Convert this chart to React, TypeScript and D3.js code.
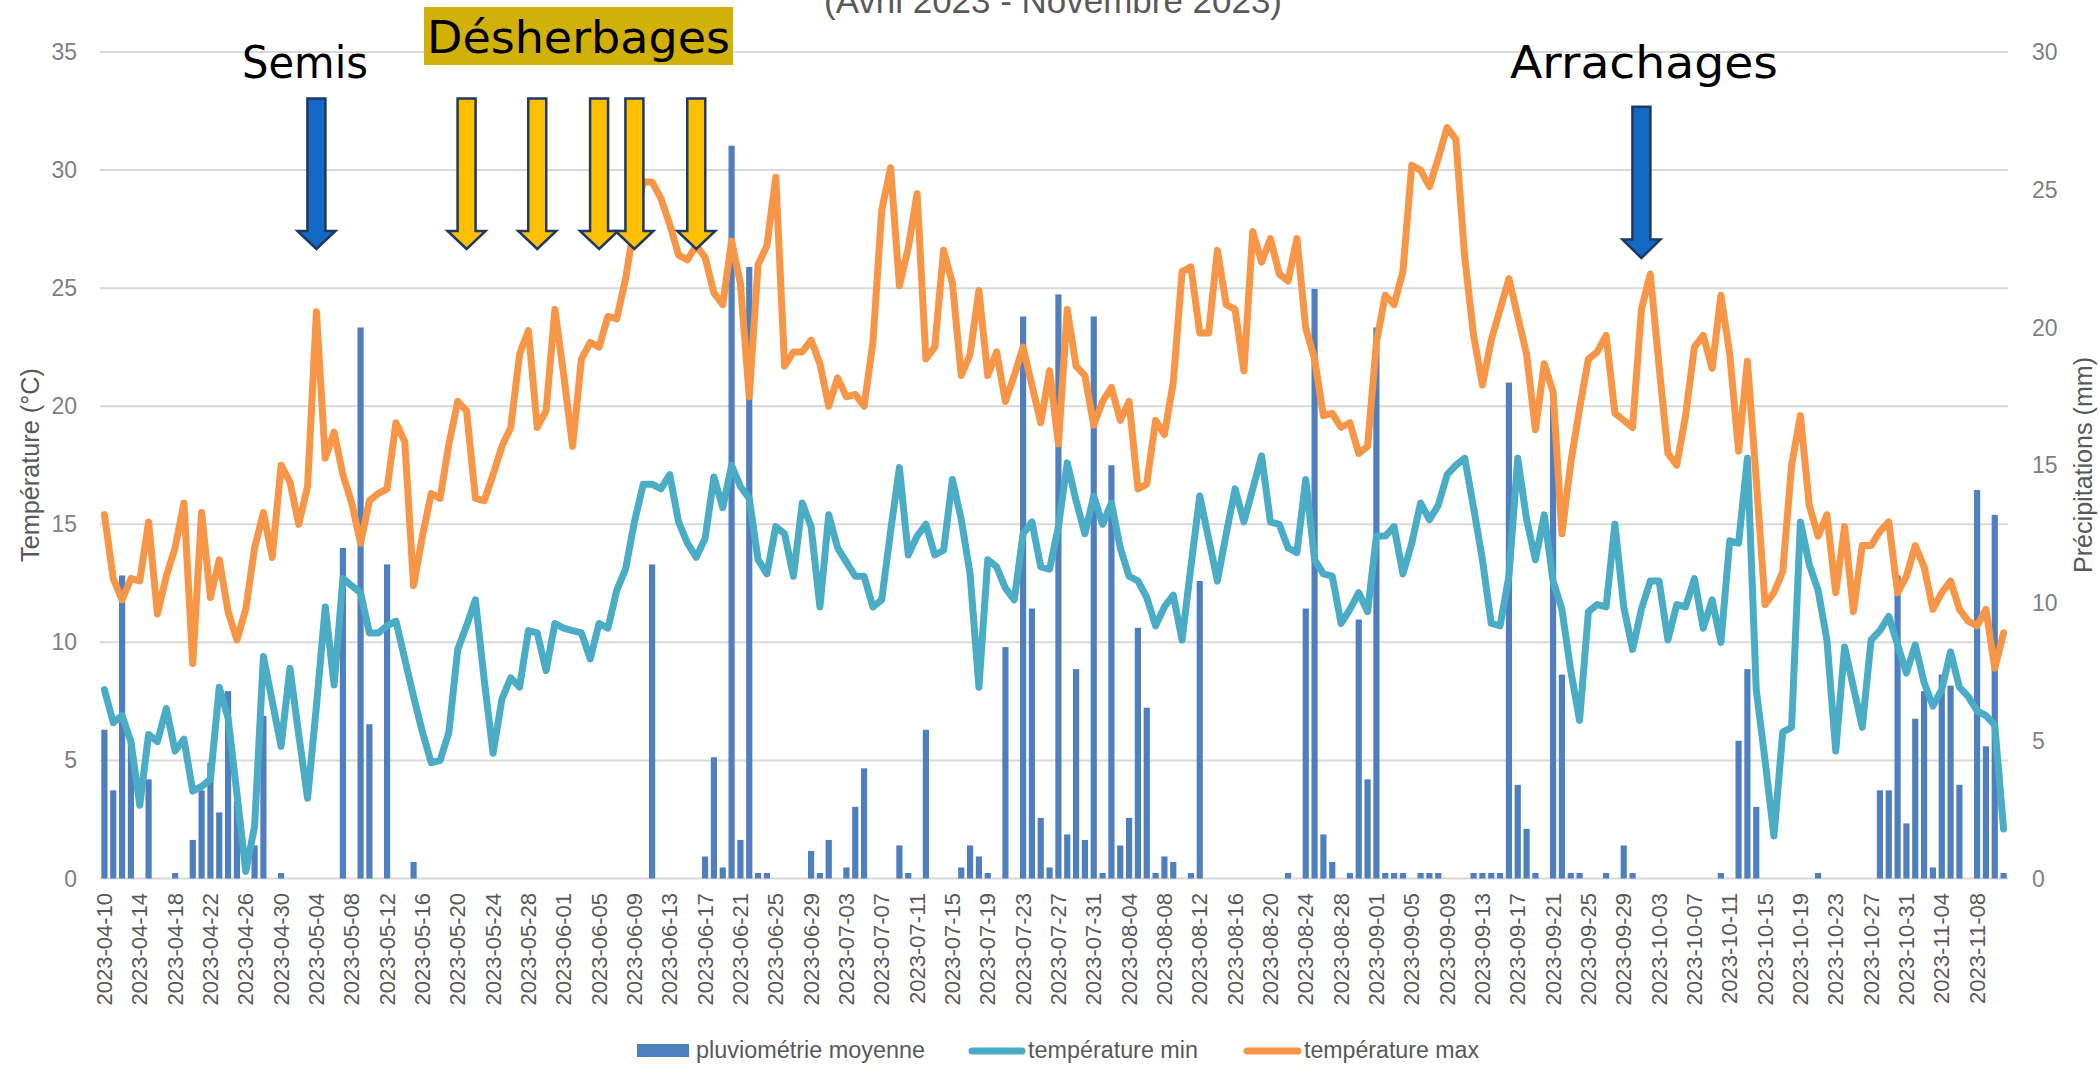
import * as d3 from "d3";

// daily series, 2023-04-10 -> 2023-11-11
const START_DAY = "2023-04-10";
const DAY_COUNT = 216;

// pluviométrie moyenne (mm)
const pluvio = [
  5.4, 3.2, 11.0, 5.0, 0, 3.6, 0, 0, 0.2, 0,
  1.4, 3.2, 4.2, 2.4, 6.8, 2.8, 0, 1.2, 5.9, 0,
  0.2, 0, 0, 0, 0, 0, 0, 12.0, 0, 20.0,
  5.6, 0, 11.4, 0, 0, 0.6, 0, 0, 0, 0,
  0, 0, 0, 0, 0, 0, 0, 0, 0, 0,
  0, 0, 0, 0, 0, 0, 0, 0, 0, 0,
  0, 0, 11.4, 0, 0, 0, 0, 0, 0.8, 4.4,
  0.4, 26.6, 1.4, 22.2, 0.2, 0.2, 0, 0, 0, 0,
  1.0, 0.2, 1.4, 0, 0.4, 2.6, 4.0, 0, 0, 0,
  1.2, 0.2, 0, 5.4, 0, 0, 0, 0.4, 1.2, 0.8,
  0.2, 0, 8.4, 0, 20.4, 9.8, 2.2, 0.4, 21.2, 1.6,
  7.6, 1.4, 20.4, 0.2, 15.0, 1.2, 2.2, 9.1, 6.2, 0.2,
  0.8, 0.6, 0, 0.2, 10.8, 0, 0, 0, 0, 0,
  0, 0, 0, 0, 0.2, 0, 9.8, 21.4, 1.6, 0.6,
  0, 0.2, 9.4, 3.6, 20.0, 0.2, 0.2, 0.2, 0, 0.2,
  0.2, 0.2, 0, 0, 0, 0.2, 0.2, 0.2, 0.2, 18.0,
  3.4, 1.8, 0.2, 0, 17.2, 7.4, 0.2, 0.2, 0, 0,
  0.2, 0, 1.2, 0.2, 0, 0, 0, 0, 0, 0,
  0, 0, 0, 0.2, 0, 5.0, 7.6, 2.6, 0, 0,
  0, 0, 0, 0, 0.2, 0, 0, 0, 0, 0,
  0, 3.2, 3.2, 11.0, 2.0, 5.8, 6.8, 0.4, 7.4, 7.0,
  3.4, 0, 14.1, 4.8, 13.2, 0.2,
];

// température min (°C)
const tMin = [
  8.0, 6.6, 6.9, 5.8, 3.1, 6.1, 5.8, 7.2, 5.4, 5.9,
  3.7, 3.9, 4.2, 8.1, 6.8, 3.6, 0.3, 2.2, 9.4, 7.5,
  5.6, 8.9, 6.1, 3.4, 7.3, 11.5, 8.2, 12.7, 12.4, 12.1,
  10.4, 10.4, 10.7, 10.9, 9.3, 7.7, 6.2, 4.9, 5.0, 6.2,
  9.7, 10.7, 11.8, 8.4, 5.3, 7.6, 8.5, 8.1, 10.5, 10.4,
  8.8, 10.8, 10.6, 10.5, 10.4, 9.3, 10.8, 10.6, 12.2, 13.1,
  15.1, 16.7, 16.7, 16.5, 17.1, 15.1, 14.2, 13.6, 14.4, 17.0,
  15.7, 17.5, 16.6, 16.1, 13.5, 12.9, 14.9, 14.6, 12.8, 15.9,
  14.9, 11.5, 15.4, 14.0, 13.4, 12.8, 12.8, 11.5, 11.8, 14.7,
  17.4, 13.7, 14.5, 15.0, 13.7, 13.9, 16.9, 15.2, 12.9, 8.1,
  13.5, 13.2, 12.3, 11.8, 14.6, 15.1, 13.2, 13.1, 14.9, 17.6,
  16.0, 14.6, 16.2, 15.0, 15.9, 14.0, 12.8, 12.6, 11.9, 10.7,
  11.5, 12.0, 10.1, 13.2, 16.2, 14.4, 12.6, 14.6, 16.5, 15.1,
  16.5, 17.9, 15.1, 15.0, 14.0, 13.8, 16.9, 13.5, 12.9, 12.8,
  10.8, 11.4, 12.1, 11.3, 14.5, 14.5, 14.9, 12.9, 14.2, 15.9,
  15.2, 15.8, 17.1, 17.5, 17.8, 15.7, 13.5, 10.8, 10.7, 12.8,
  17.8, 15.2, 13.5, 15.4, 12.6, 11.4, 8.8, 6.7, 11.3, 11.6,
  11.5, 15.0, 11.5, 9.7, 11.4, 12.6, 12.6, 10.1, 11.6, 11.5,
  12.7, 10.6, 11.8, 10.0, 14.3, 14.2, 17.8, 8.0, 5.0, 1.8,
  6.2, 6.4, 15.1, 13.3, 12.2, 10.1, 5.4, 9.8, 8.1, 6.4,
  10.1, 10.5, 11.1, 9.9, 8.7, 9.9, 8.3, 7.3, 8.0, 9.6,
  8.1, 7.7, 7.1, 6.9, 6.5, 2.1,
];

// température max (°C)
const tMax = [
  15.4, 12.7, 11.8, 12.7, 12.6, 15.1, 11.2, 12.8, 14.0, 15.9,
  9.1, 15.5, 11.9, 13.5, 11.3, 10.1, 11.4, 14.0, 15.5, 13.6,
  17.5, 16.8, 15.0, 16.6, 24.0, 17.8, 18.9, 17.1, 15.9, 14.2,
  16.0, 16.3, 16.5, 19.3, 18.5, 12.4, 14.5, 16.3, 16.1, 18.4,
  20.2, 19.8, 16.1, 16.0, 17.1, 18.3, 19.1, 22.2, 23.2, 19.1,
  19.8, 24.1, 21.3, 18.3, 22.0, 22.7, 22.5, 23.8, 23.7, 25.4,
  27.7, 29.5, 29.5, 28.8, 27.7, 26.4, 26.2, 26.8, 26.3, 24.8,
  24.3, 27.0, 25.2, 20.4, 26.0, 26.8, 29.7, 21.7, 22.3, 22.3,
  22.8, 21.8, 20.0, 21.2, 20.4, 20.5, 20.0, 22.7, 28.3, 30.1,
  25.1, 26.7, 29.0, 22.0, 22.5, 26.6, 25.2, 21.3, 22.2, 24.9,
  21.3, 22.3, 20.2, 21.3, 22.5, 20.9, 19.3, 21.5, 18.4, 24.1,
  21.7, 21.3, 19.2, 20.2, 20.8, 19.4, 20.2, 16.5, 16.7, 19.4,
  18.8, 21.0, 25.7, 25.9, 23.1, 23.1, 26.6, 24.3, 24.1, 21.5,
  27.4, 26.1, 27.1, 25.6, 25.3, 27.1, 23.3, 22.0, 19.6, 19.7,
  19.1, 19.3, 18.0, 18.3, 22.7, 24.7, 24.3, 25.7, 30.2, 30.0,
  29.3, 30.5, 31.8, 31.3, 26.3, 23.0, 20.9, 22.8, 24.1, 25.4,
  23.8, 22.2, 19.0, 21.8, 20.6, 14.6, 17.6, 19.9, 22.0, 22.3,
  23.0, 19.7, 19.4, 19.1, 24.1, 25.6, 21.7, 18.0, 17.5, 19.6,
  22.5, 23.0, 21.6, 24.7, 22.2, 18.1, 21.9, 16.9, 11.6, 12.1,
  13.0, 17.5, 19.6, 15.8, 14.5, 15.4, 12.1, 14.9, 11.3, 14.1,
  14.1, 14.7, 15.1, 12.1, 12.8, 14.1, 13.2, 11.4, 12.1, 12.6,
  11.4, 10.9, 10.7, 11.4, 8.9, 10.4,
];

const TEMP_TICKS = [0, 5, 10, 15, 20, 25, 30, 35];
const RAIN_TICKS = [0, 5, 10, 15, 20, 25, 30];

const SEMIS = ["2023-05-04"];
const DESHERBAGES = ["2023-05-21", "2023-05-29", "2023-06-05", "2023-06-09", "2023-06-16"];
const ARRACHAGES = ["2023-10-01"];

const W = 2100;
const H = 1067;
const PLOT = { left: 100, right: 2008, top: 52, bottom: 878.5 };

const BAR_COLOR = "#4f7fbf";
const MIN_COLOR = "#4bacc6";
const MAX_COLOR = "#f79646";
const GRID = "#d9d9d9";
const TXT = "#595959";
const SANS = "'Liberation Sans', Arial, sans-serif";
const GEO = "'DejaVu Sans', sans-serif";

const fmt = d3.timeFormat("%Y-%m-%d");
const parse = d3.timeParse("%Y-%m-%d");
const start = parse(START_DAY) as Date;
const days = d3.timeDay.range(start, d3.timeDay.offset(start, DAY_COUNT)).map(fmt);

function arrowPath(cx: number, top: number, headY: number, tip: number) {
  return `M${cx - 9},${top} L${cx + 9},${top} L${cx + 9},${headY} L${cx + 19},${headY} L${cx},${tip} L${cx - 19},${headY} L${cx - 9},${headY} Z`;
}

export default function App() {
  const x = d3
    .scaleBand<string>()
    .domain(days)
    .range([PLOT.left, PLOT.right])
    .paddingInner(0.3)
    .paddingOuter(0.15);
  const cx = (d: string) => (x(d) as number) + x.bandwidth() / 2;
  const yT = d3.scaleLinear().domain([0, 35]).range([PLOT.bottom, PLOT.top]);
  const yR = d3.scaleLinear().domain([0, 30]).range([PLOT.bottom, PLOT.top]);

  const line = d3
    .line<number>()
    .x((_, i) => cx(days[i]))
    .y((v) => yT(v));

  const labelDays = days.filter((_, i) => i % 4 === 0);

  return (
    <div style={{ position: "absolute", left: 0, top: 0, width: W, height: H, background: "#fff" }}>
      <svg width={W} height={H} style={{ display: "block" }}>
        <rect width={W} height={H} fill="#fff" />

        {/* title, cut at the top as in the source */}
        <text x={1053} y={12.5} textAnchor="middle" fontFamily={SANS} fontSize={35} fill={TXT} textLength={458} lengthAdjust="spacingAndGlyphs">
          (Avril 2023 - Novembre 2023)
        </text>

        {/* grid */}
        {TEMP_TICKS.map((t) => (
          <line key={t} x1={PLOT.left} x2={PLOT.right} y1={yT(t)} y2={yT(t)} stroke={GRID} strokeWidth={2} />
        ))}

        {/* left ticks */}
        {TEMP_TICKS.map((t) => (
          <text key={t} x={77} y={yT(t)} dominantBaseline="central" textAnchor="end" fontFamily={SANS} fontSize={23} fill="#7f7f7f">
            {t}
          </text>
        ))}
        {/* right ticks */}
        {RAIN_TICKS.map((t) => (
          <text key={t} x={2032} y={yR(t)} dominantBaseline="central" textAnchor="start" fontFamily={SANS} fontSize={23} fill="#7f7f7f">
            {t}
          </text>
        ))}

        <text transform="translate(30,465) rotate(-90)" textAnchor="middle" dominantBaseline="central" fontFamily={SANS} fontSize={25} fill={TXT} textLength={194} lengthAdjust="spacingAndGlyphs">
          Température (°C)
        </text>
        <text transform="translate(2083,465) rotate(-90)" textAnchor="middle" dominantBaseline="central" fontFamily={SANS} fontSize={25} fill={TXT} textLength={216} lengthAdjust="spacingAndGlyphs">
          Précipitations (mm)
        </text>

        {/* bars */}
        {pluvio.map((v, i) =>
          v > 0 ? (
            <rect key={i} x={x(days[i])} width={x.bandwidth()} y={yR(v)} height={PLOT.bottom - yR(v)} fill={BAR_COLOR} />
          ) : null
        )}

        {/* lines */}
        <path d={line(tMin) || ""} fill="none" stroke={MIN_COLOR} strokeWidth={7} strokeLinejoin="round" strokeLinecap="round" />
        <path d={line(tMax) || ""} fill="none" stroke={MAX_COLOR} strokeWidth={7} strokeLinejoin="round" strokeLinecap="round" />

        {/* x labels */}
        {labelDays.map((d) => (
          <text key={d} transform={`translate(${cx(d)},893) rotate(-90)`} textAnchor="end" dominantBaseline="central" fontFamily={SANS} fontSize={22} fill={TXT}>
            {d}
          </text>
        ))}

        {/* annotations */}
        <text x={305} y={78} textAnchor="middle" fontFamily={GEO} fontSize={45} fill="#000" textLength={126} lengthAdjust="spacingAndGlyphs">
          Semis
        </text>
        {SEMIS.map((d) => (
          <path key={d} d={arrowPath(cx(d), 98.5, 231, 249)} fill="#1469c4" stroke="#1f3864" strokeWidth={2.5} />
        ))}

        <rect x={424} y={7} width={309} height={58} fill="#d1b007" />
        <text x={578.5} y={53} textAnchor="middle" fontFamily={GEO} fontSize={44} fill="#000" textLength={303} lengthAdjust="spacingAndGlyphs">
          Désherbages
        </text>
        {DESHERBAGES.map((d) => (
          <path key={d} d={arrowPath(cx(d), 98.5, 231, 249)} fill="#ffc000" stroke="#1f3864" strokeWidth={2.5} />
        ))}

        <text x={1644} y={78} textAnchor="middle" fontFamily={GEO} fontSize={45} fill="#000" textLength={268} lengthAdjust="spacingAndGlyphs">
          Arrachages
        </text>
        {ARRACHAGES.map((d) => (
          <path key={d} d={arrowPath(cx(d), 106.7, 239.5, 258)} fill="#1469c4" stroke="#1f3864" strokeWidth={2.5} />
        ))}

        {/* legend */}
        <rect x={637} y={1044} width={52} height={13} fill={BAR_COLOR} />
        <text x={696} y={1058} fontFamily={SANS} fontSize={23} fill={TXT} textLength={229} lengthAdjust="spacingAndGlyphs">
          pluviométrie moyenne
        </text>
        <line x1={972} x2={1022} y1={1051} y2={1051} stroke={MIN_COLOR} strokeWidth={7} strokeLinecap="round" />
        <text x={1028} y={1058} fontFamily={SANS} fontSize={23} fill={TXT} textLength={170} lengthAdjust="spacingAndGlyphs">
          température min
        </text>
        <line x1={1247} x2={1298} y1={1051} y2={1051} stroke={MAX_COLOR} strokeWidth={7} strokeLinecap="round" />
        <text x={1304} y={1058} fontFamily={SANS} fontSize={23} fill={TXT} textLength={175} lengthAdjust="spacingAndGlyphs">
          température max
        </text>
      </svg>
    </div>
  );
}
